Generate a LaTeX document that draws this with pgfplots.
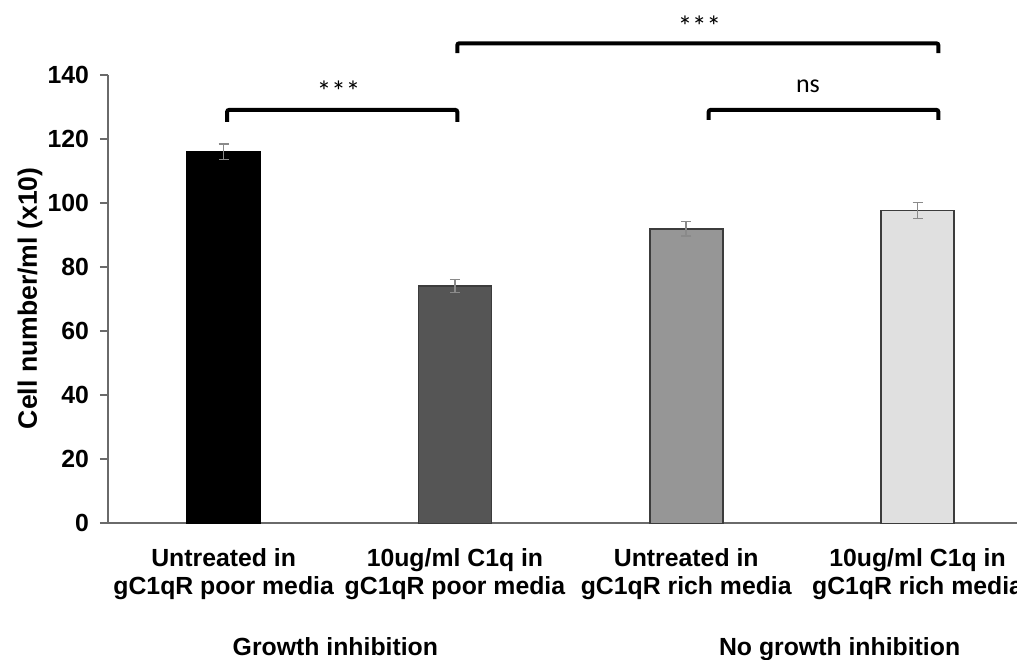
\documentclass[border=0pt]{standalone}
\usepackage{fontspec}
\setmainfont{Liberation Sans}
\newfontfamily\calfont{Carlito}
\usepackage{pgfplots}
\pgfplotsset{compat=1.18}
\definecolor{axisgray}{HTML}{6A6A6A}
\definecolor{errgray}{HTML}{8A8A8A}
\definecolor{edgegray}{HTML}{3C3C3C}
\definecolor{barB}{HTML}{555555}
\definecolor{barC}{HTML}{969696}
\definecolor{barD}{HTML}{E0E0E0}
\newcommand{\lbl}{\fontsize{12.4}{14}\selectfont\bfseries}
\begin{document}
\begin{tikzpicture}
\begin{axis}[
  at={(0pt,0pt)}, anchor=south west,
  x=115.65pt, y=1.601pt,
  xmin=-0.5, xmax=3.43, ymin=0, ymax=140,
  axis x line*=bottom, axis y line*=left,
  axis line style={draw=axisgray, line width=1pt},
  ytick={0,20,...,140},
  xtick={0,1,2,3},
  xticklabels={{Untreated in\\gC1qR poor media},{10ug/ml C1q in\\gC1qR poor media},{Untreated in\\gC1qR rich media},{10ug/ml C1q in\\gC1qR rich media}},
  xticklabel style={align=center, font=\lbl, yshift=-5pt},
  yticklabel style={font=\lbl, xshift=-2pt},
  /pgf/number format/assume math mode=true,
  tick align=outside, major tick length=4pt,
  xtick style={draw=none},
  ytick style={draw=axisgray, line width=1pt},
  clip=false,
  error bars/y dir=both, error bars/y explicit,
  error bars/error bar style={draw=errgray, line width=0.8pt},
  error bars/error mark options={rotate=90, draw=errgray, mark size=2.5pt, line width=0.8pt},
]
\addplot[ybar, bar shift=0pt, bar width=36.5pt, fill=black, draw=black, line width=0.8pt] coordinates {(0,116.0) +- (0,2.4)};
\addplot[ybar, bar shift=0pt, bar width=36.5pt, fill=barB, draw=edgegray, line width=0.8pt] coordinates {(1,74.1) +- (0,2.0)};
\addplot[ybar, bar shift=0pt, bar width=36.5pt, fill=barC, draw=edgegray, line width=0.8pt] coordinates {(2,92.0) +- (0,2.3)};
\addplot[ybar, bar shift=0pt, bar width=36.5pt, fill=barD, draw=edgegray, line width=0.8pt] coordinates {(3,97.7) +- (0,2.5)};
% significance brackets
\draw[line width=2pt, rounded corners=1pt] (axis cs:0.015,125.4) -- (axis cs:0.015,129.1) -- (axis cs:1.01,129.1) -- (axis cs:1.01,125.4);
\draw[line width=2pt, rounded corners=1pt] (axis cs:1.01,146.8) -- (axis cs:1.01,149.9) -- (axis cs:3.09,149.9) -- (axis cs:3.09,146.8);
\draw[line width=2pt, rounded corners=1pt] (axis cs:2.097,126.0) -- (axis cs:2.097,129.1) -- (axis cs:3.09,129.1) -- (axis cs:3.09,126.0);
\node[font=\calfont\fontsize{14.5}{16}\selectfont] at (axis cs:0.497,134.8) {***};
\node[font=\calfont\fontsize{14.5}{16}\selectfont] at (axis cs:2.057,155.3) {***};
\node[font=\calfont\fontsize{13}{15}\selectfont] at (axis cs:2.526,136.5) {ns};
% group labels
\node[font=\lbl, anchor=base, yshift=-65.9pt] at (axis cs:0.483,0) {Growth inhibition};
\node[font=\lbl, anchor=base, yshift=-65.9pt] at (axis cs:2.663,0) {No growth inhibition};
\end{axis}
\node[rotate=90, font=\fontsize{13.3}{15}\selectfont\bfseries] at (-39pt,112.5pt) {Cell number/ml (x10)};
\pgfresetboundingbox
\path[use as bounding box] (-54pt,-67.85pt) rectangle (454.5pt,261.65pt);
\end{tikzpicture}
\end{document}
